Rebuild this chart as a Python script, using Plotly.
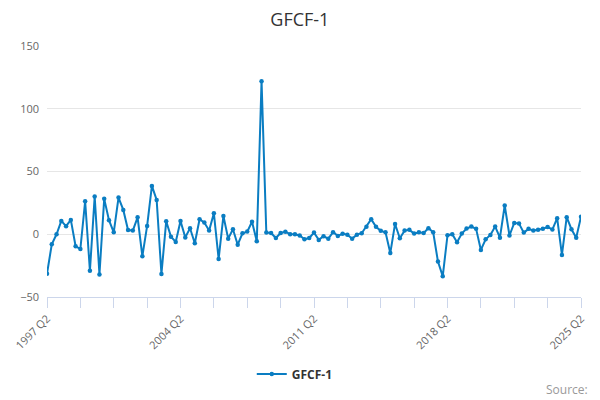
#!/usr/bin/env python3
# GFCF-1 quarterly series, 1997 Q2 - 2025 Q2
import plotly.graph_objects as go

# Quarter labels
quarters = ["%d Q%d" % (y, q) for y in range(1997, 2026) for q in range(1, 5)]
quarters = quarters[quarters.index("1997 Q2"):quarters.index("2025 Q2") + 1]

# Series values
gfcf_1 = [
    -31.5, -8, 0, 10.6, 6.4, 11.4, -9.6, -11.7, 26.3, -29,
    30, -32, 28.2, 11.2, 1.5, 29.2, 19.4, 3.4, 2.9, 13.5,
    -17.5, 6.6, 38.5, 27.3, -31.7, 10.3, -1.9, -6.1, 10.6, -2.5,
    4.8, -7.2, 12, 9.3, 2.9, 16.7, -19.7, 14.6, -3.5, 4,
    -8.3, 0.8, 2.1, 10, -5.6, 122, 1.3, 1, -3, 1,
    2, 0, 0, -1, -4, -3, 1.3, -4.5, -1.6, -3.5,
    1.6, -1.3, 0.3, -0.3, -3.5, -0.3, 0.8, 6, 12, 6,
    2.7, 1.6, -15, 8.2, -3.2, 2.9, 3.5, 0.5, 1.6, 1,
    4.8, 1.6, -21.8, -33.5, -0.8, 0, -6.4, 0.5, 4.5, 6.1,
    4.3, -12.5, -4, -0.5, 6.1, -2.7, 22.9, -1, 9, 8.5,
    1.3, 4.3, 2.9, 3.5, 4.3, 5.8, 3.7, 12.8, -16.5, 13.6,
    4, -2.7, 14,
]

# every 7th quarter gets a tick, every 28th a label
tick_vals = quarters[::7]
tick_text = [q if i % 4 == 0 else "" for i, q in enumerate(tick_vals)]
y_ticks = [-50, 0, 50, 100, 150]

line_color = "#0a7dc2"

fig = go.Figure()
fig.add_trace(go.Scatter(
    x=quarters,
    y=gfcf_1,
    mode="lines+markers",
    name="<b>GFCF-1</b>",
    line=dict(color=line_color, width=2),
    marker=dict(color=line_color, size=4.5),
))

# page body has an 8px margin, so the figure is a bit smaller than the window
fig.update_layout(
    width=592,
    height=392,
    margin=dict(l=39, r=19, t=38, b=103, autoexpand=False),
    paper_bgcolor="white",
    plot_bgcolor="white",
    font=dict(family="Open Sans, DejaVu Sans, sans-serif", color="#666666", size=11),
    title=dict(text="GFCF-1", x=0.493, xanchor="center", y=0.971, yanchor="middle",
               font=dict(size=18, color="#333333")),
    showlegend=True,
    legend=dict(orientation="h", x=0.464, xanchor="center", y=-0.307, yanchor="middle",
                font=dict(size=12, color="#333333")),
    annotations=[dict(text="Source:", xref="paper", yref="paper", x=1.017, y=-0.37,
                      xanchor="right", yanchor="middle", showarrow=False,
                      font=dict(size=12, color="#999999"))],
)

fig.update_xaxes(
    type="category",
    tickmode="array",
    tickvals=tick_vals,
    ticktext=tick_text,
    tickangle=-45,
    ticks="outside",
    ticklen=10,
    tickcolor="#ccd6eb",
    showline=True,
    linecolor="#ccd6eb",
    showgrid=False,
    zeroline=False,
    automargin=False,
    range=[0, len(quarters) - 1],
    tickfont=dict(size=11, color="#666666"),
)
fig.update_yaxes(
    range=[-50, 150],
    tickvals=y_ticks,
    showgrid=True,
    gridcolor="#e6e6e6",
    zeroline=False,
    showline=False,
    ticks="",
    ticklabelstandoff=7,
    automargin=False,
    tickfont=dict(size=11, color="#666666"),
)

fig.write_html("out.html")
